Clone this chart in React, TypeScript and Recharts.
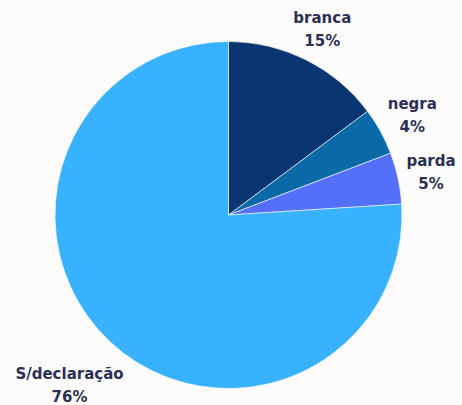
import { PieChart, Pie, Cell } from "recharts";

const CATEGORIES = ["branca", "negra", "parda", "S/declaração"];
const SHARES = [14.8, 4.4, 4.8, 76];
const COLORS = ["#0a3570", "#0a6aa8", "#5470fb", "#38b2ff"];

const BG = "#fdfcfa";
const TEXT = "#2b3155";
const RAD = Math.PI / 180;

const data = CATEGORIES.map((name, i) => ({ name, value: SHARES[i] }));

// label box sits just outside the slice, pushed out along the mid angle
function renderLabel(props: any) {
  const { cx, cy, outerRadius, midAngle, name, value } = props;
  const pct = `${Math.round(value)}%`;
  const w = Math.max(name.length, pct.length) * 9.4;
  const h = 36;
  const cos = Math.cos(-midAngle * RAD);
  const sin = Math.sin(-midAngle * RAD);
  const push = 7 + Math.abs(cos) * (w / 2) + Math.abs(sin) * (h / 2);
  const x = cx + (outerRadius + push) * cos;
  const y = cy + (outerRadius + push) * sin;
  return (
    <text
      x={x}
      y={y}
      textAnchor="middle"
      fill={TEXT}
      fontFamily="'DejaVu Sans', sans-serif"
      fontWeight={700}
      fontSize={15}
    >
      <tspan x={x} dy={-5}>
        {name}
      </tspan>
      <tspan x={x} dy={23}>
        {pct}
      </tspan>
    </text>
  );
}

export default function App() {
  return (
    <div
      style={{
        position: "fixed",
        top: 0,
        left: 0,
        width: 462,
        height: 405,
        background: BG,
      }}
    >
      <PieChart
        width={462}
        height={405}
        margin={{ top: 0, right: 0, bottom: 0, left: 0 }}
      >
        <Pie
          data={data}
          dataKey="value"
          nameKey="name"
          cx={228.5}
          cy={215}
          outerRadius={173.5}
          startAngle={90}
          endAngle={-270}
          stroke={BG}
          strokeWidth={0.6}
          label={renderLabel}
          labelLine={false}
          isAnimationActive={false}
        >
          {data.map((d, i) => (
            <Cell key={d.name} fill={COLORS[i]} />
          ))}
        </Pie>
      </PieChart>
    </div>
  );
}
